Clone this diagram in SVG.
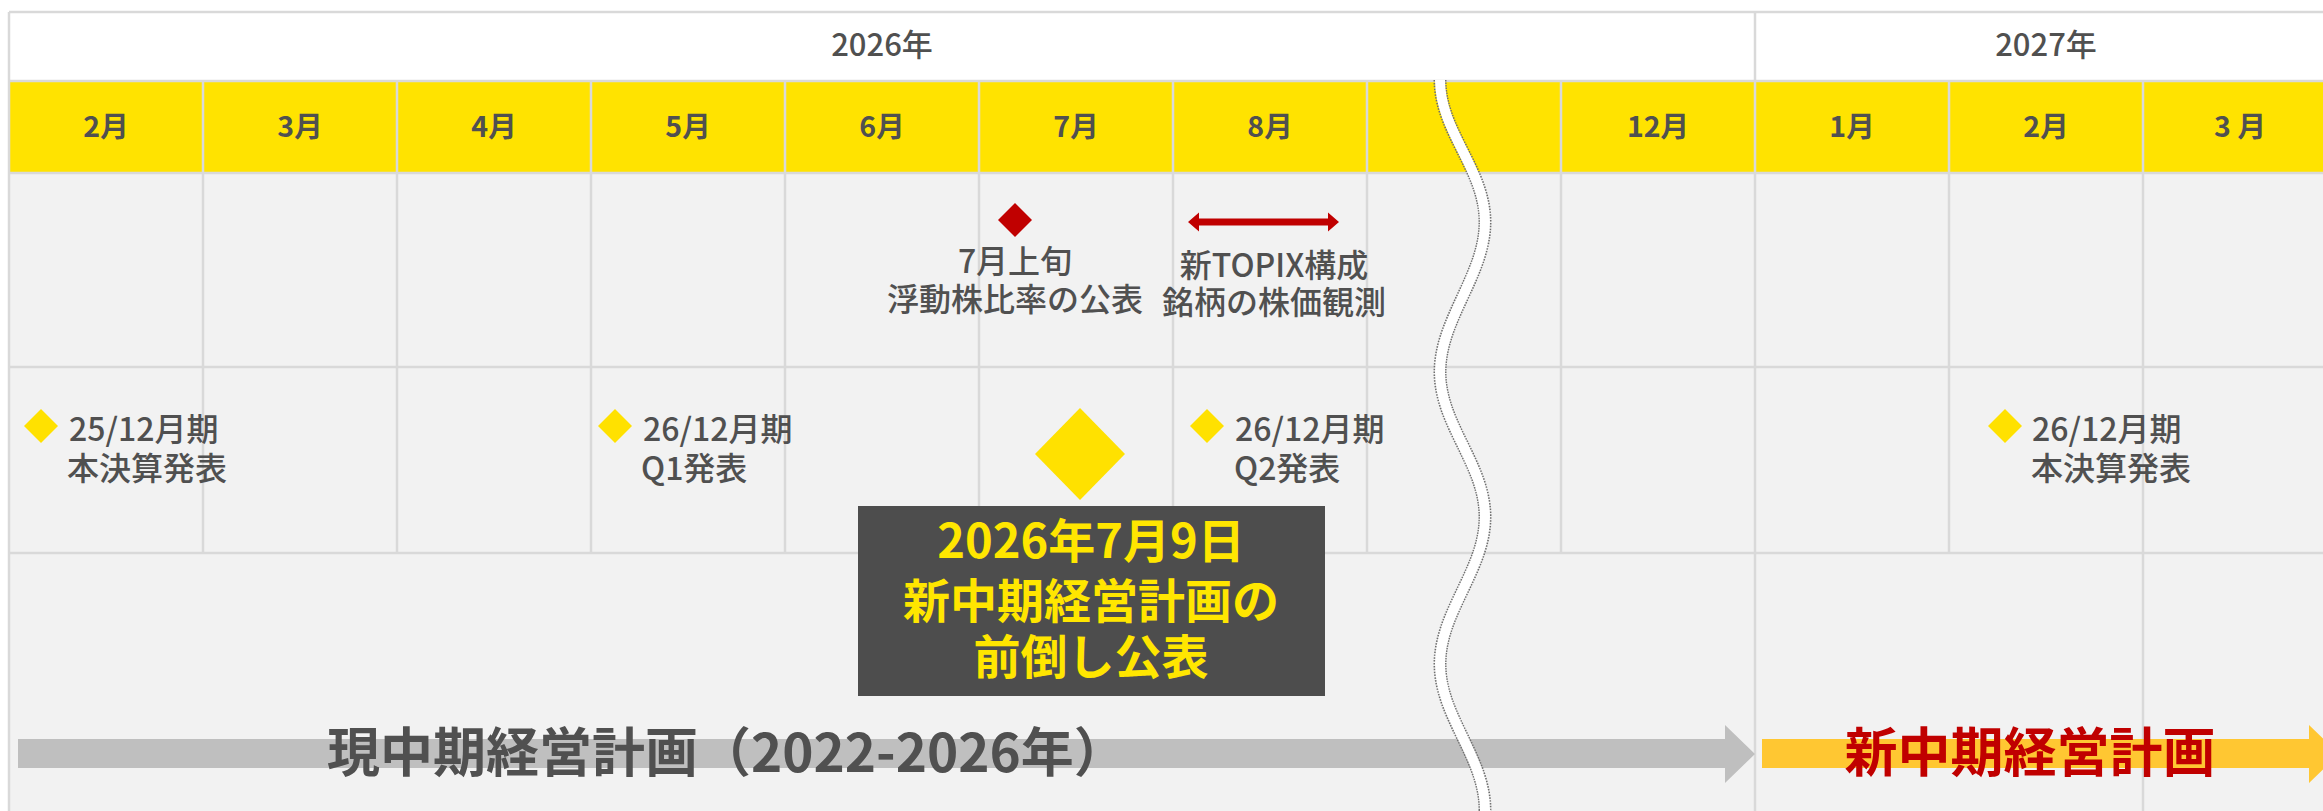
<svg xmlns="http://www.w3.org/2000/svg" width="2323" height="811" viewBox="0 0 2323 811">
<defs>
<style>
.grid{stroke:#D9D9D9;stroke-width:2.5;fill:none}
.t{font-family:"Noto Sans CJK JP","Noto Sans",sans-serif;fill:#505050}
.yr{font-size:31px;font-weight:500;text-anchor:middle}
.mo{font-size:28.5px;font-weight:bold;text-anchor:middle}
.lb{font-size:32px;font-weight:500}
.mid{text-anchor:middle}
.dy{fill:#FFE100}
.box{font-family:"Noto Sans CJK JP","Noto Sans",sans-serif;fill:#FFE600;font-size:47px;font-weight:bold;text-anchor:middle}
.big{font-family:"Noto Sans CJK JP","Noto Sans",sans-serif;font-size:53px;font-weight:bold}
</style>
</defs>
<rect width="2323" height="811" fill="#FFFFFF"/>
<g id="table">
<rect x="9" y="12" width="2314" height="69" fill="#FFFFFF"/>
<rect x="9" y="81" width="2314" height="92" fill="#FFE300"/>
<rect x="9" y="173" width="2314" height="638" fill="#F2F2F2"/>
<path class="grid" d="M9,12H2323M9,81H2323M9,173H2323M9,367H2323M9,553H2323M9,12V811M1755,12V81
M203,81V553M397,81V553M591,81V553M785,81V553M979,81V553M1173,81V553M1367,81V553M1561,81V553M1755,81V553M1949,81V553M2143,81V553
M1755,553V811M2143,553V811"/>
<text class="t yr" x="882" y="56">2026年</text>
<text class="t yr" x="2046" y="56">2027年</text>
<text class="t mo" x="106" y="137">2月</text>
<text class="t mo" x="300" y="137">3月</text>
<text class="t mo" x="494" y="137">4月</text>
<text class="t mo" x="688" y="137">5月</text>
<text class="t mo" x="882" y="137">6月</text>
<text class="t mo" x="1076" y="137">7月</text>
<text class="t mo" x="1270" y="137">8月</text>
<text class="t mo" x="1658" y="137">12月</text>
<text class="t mo" x="1852" y="137">1月</text>
<text class="t mo" x="2046" y="137">2月</text>
<text class="t mo" x="2240" y="137">3 月</text>
</g>
<g id="float-ratio">
<polygon points="1015,203 1032,220 1015,237 998,220" fill="#C00000"/>
<text class="t lb mid" x="1015" y="273">7月上旬</text>
<text class="t lb mid" x="1015" y="311">浮動株比率の公表</text>
</g>
<g id="topix">
<text class="t lb mid" x="1274" y="277">新TOPIX構成</text>
<text class="t lb mid" x="1274" y="314">銘柄の株価観測</text>
</g>
<g id="m25-annual">
<polygon class="dy" points="41,409 58,426 41,443 24,426"/>
<text class="t lb" x="69" y="441">25/12月期</text>
<text class="t lb" x="67" y="480">本決算発表</text>
</g>
<g id="m26-q1">
<polygon class="dy" points="615,409 632,426 615,443 598,426"/>
<text class="t lb" x="643" y="441">26/12月期</text>
<text class="t lb" x="641" y="480">Q1発表</text>
</g>
<g id="m26-q2">
<polygon class="dy" points="1207,409 1224,426 1207,443 1190,426"/>
<text class="t lb" x="1235" y="441">26/12月期</text>
<text class="t lb" x="1234" y="480">Q2発表</text>
</g>
<g id="m26-annual">
<polygon class="dy" points="2005,409 2022,426 2005,443 1988,426"/>
<text class="t lb" x="2032" y="441">26/12月期</text>
<text class="t lb" x="2031" y="480">本決算発表</text>
</g>
<g id="announce">
<polygon class="dy" points="1080,408 1125,454 1080,500 1035,454"/>
<rect x="858" y="506" width="467" height="190" fill="#4D4D4D"/>
<text class="box" x="1091" y="558">2026年7月9日</text>
<text class="box" x="1091" y="618">新中期経営計画の</text>
<text class="box" x="1091" y="674">前倒し公表</text>
</g>
<g id="connectors">
<polygon points="1188,222 1199,212.5 1199,218.5 1328,218.5 1328,212.5 1339,222 1328,231.5 1328,225.5 1199,225.5 1199,231.5" fill="#C00000"/>
<polygon points="18,739 1725,739 1725,725 1755,754 1725,783 1725,768 18,768" fill="#BFBFBF"/>
<polygon points="1762,739 2309,739 2309,725 2339,754 2309,783 2309,768 1762,768" fill="#FFC732"/>
</g>
<g id="plan-current">
<text class="big" x="327" y="772" fill="#505050">現中期経営計画（2022-2026年）</text>
</g>
<g id="plan-new">
<text class="big" x="2030" y="772" fill="#C00000" text-anchor="middle">新中期経営計画</text>
</g>
<g id="break">
<path d="M1440,80 C1440,132 1485,169 1485,222 S1440,319 1440,372 S1485,464 1485,517 S1440,611 1440,664 S1485,757 1485,810 L1486,820" fill="none" stroke="#6E6E6E" stroke-width="13" stroke-dasharray="1.5 1.2"/>
<path d="M1440,80 C1440,132 1485,169 1485,222 S1440,319 1440,372 S1485,464 1485,517 S1440,611 1440,664 S1485,757 1485,810 L1486,820" fill="none" stroke="#FFFFFF" stroke-width="10"/>
</g>
</svg>
